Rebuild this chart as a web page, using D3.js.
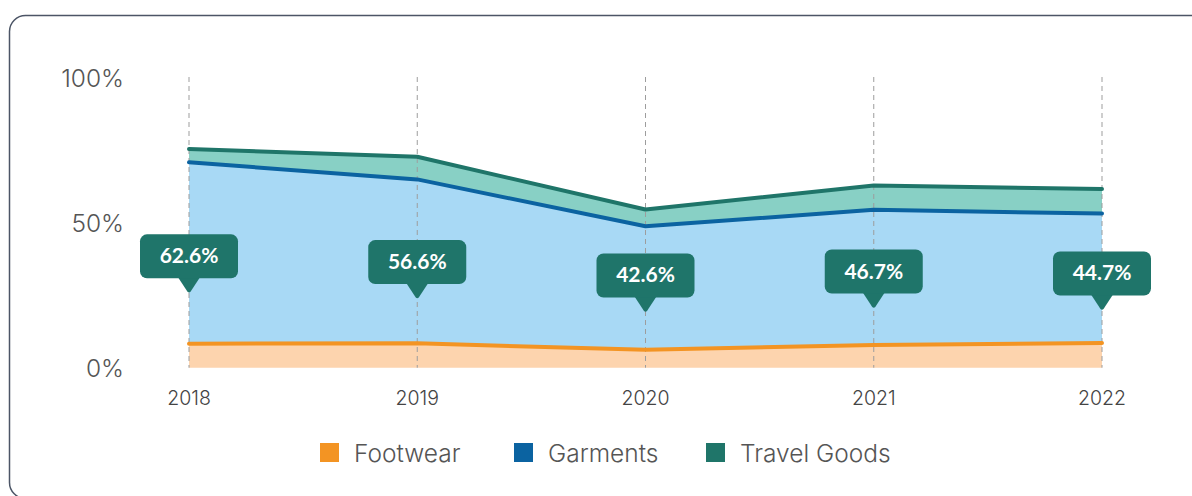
<!DOCTYPE html>
<html>
<head>
<meta charset="utf-8">
<script src="https://cdn.jsdelivr.net/npm/d3@7"></script>
<style>
  html, body { margin: 0; padding: 0; background: #fff; }
  svg { display: block; font-family: Inter, "Noto Sans", sans-serif; }
</style>
</head>
<body>
<svg id="chart" width="1192" height="496"></svg>
<script>
// chart data (share of exports, %)
const years = ['2018', '2019', '2020', '2021', '2022'];
const footwear = [8.3, 8.4, 6.2, 7.8, 8.5];
const garments = [62.6, 56.6, 42.6, 46.7, 44.7];
const travelGoods = [4.6, 7.8, 5.8, 8.4, 8.5];
const yTicks = [0, 50, 100];
const seriesNames = ['Footwear', 'Garments', 'Travel Goods'];

const lineColors = ['#f39423', '#0b63a1', '#1f7569'];
const fillColors = ['#fdd4ae', '#a8d9f5', '#88d0c5'];

const svg = d3.select('#chart');

// card frame
svg.append('rect')
  .attr('x', 9.5).attr('y', 15.5)
  .attr('width', 1220).attr('height', 483)
  .attr('rx', 16)
  .attr('fill', 'none')
  .attr('stroke', '#4c5566')
  .attr('stroke-width', 1.5);

const x = d3.scalePoint().domain(years).range([189, 1102]);
const y = d3.scaleLinear().domain([0, 100]).range([367.7, 78]);

const rows = years.map((yr, i) => ({
  year: yr,
  Footwear: footwear[i],
  Garments: garments[i],
  'Travel Goods': travelGoods[i]
}));

const stacked = d3.stack().keys(seriesNames)(rows);

const area = d3.area()
  .x(d => x(d.data.year))
  .y0(d => y(d[0]))
  .y1(d => y(d[1]));

const line = d3.line()
  .x(d => x(d.data.year))
  .y(d => y(d[1]));

// areas
svg.append('g')
  .selectAll('path')
  .data(stacked)
  .enter()
  .append('path')
  .attr('d', area)
  .attr('fill', (d, i) => fillColors[i]);

// dashed year guides
svg.append('g')
  .selectAll('line')
  .data(years)
  .enter()
  .append('line')
  .attr('x1', d => x(d)).attr('x2', d => x(d))
  .attr('y1', y(100) - 1).attr('y2', y(0))
  .attr('stroke', '#9d9d9d')
  .attr('stroke-width', 1)
  .attr('stroke-dasharray', '5,4');

// top lines of each band
svg.append('g')
  .selectAll('path')
  .data(stacked)
  .enter()
  .append('path')
  .attr('d', line)
  .attr('fill', 'none')
  .attr('stroke', (d, i) => lineColors[i])
  .attr('stroke-width', 4)
  .attr('stroke-linecap', 'round')
  .attr('stroke-linejoin', 'round');

// y axis labels
svg.append('g')
  .selectAll('text')
  .data(yTicks)
  .enter()
  .append('text')
  .attr('x', 124)
  .attr('y', d => y(d) + 9)
  .attr('text-anchor', 'end')
  .attr('font-size', 24.5)
  .attr('font-weight', 300)
  .attr('fill', '#555')
  .text(d => d + '%');

// x axis labels
svg.append('g')
  .selectAll('text')
  .data(years)
  .enter()
  .append('text')
  .attr('x', d => x(d))
  .attr('y', 405)
  .attr('text-anchor', 'middle')
  .attr('font-size', 19.5)
  .attr('font-weight', 350)
  .attr('fill', '#444')
  .text(d => d);

// value callouts for garments
const boxW = 98;
const boxH = 44;
const tipH = 15;
const callouts = svg.append('g')
  .selectAll('g')
  .data(rows)
  .enter()
  .append('g')
  .attr('transform', d => `translate(${x(d.year)},${y(d.Garments * 0.33 + 5)})`);

callouts.append('path')
  .attr('d', `M-11,${-tipH - 1} L-1.5,-1.5 Q0,0 1.5,-1.5 L11,${-tipH - 1} Z`)
  .attr('fill', '#1f756a');

callouts.append('rect')
  .attr('x', -boxW / 2)
  .attr('y', -tipH - boxH)
  .attr('width', boxW)
  .attr('height', boxH)
  .attr('rx', 7)
  .attr('fill', '#1f756a');

callouts.append('text')
  .attr('x', 0)
  .attr('y', -tipH - boxH / 2 + 7)
  .attr('text-anchor', 'middle')
  .attr('font-family', 'Lato, sans-serif')
  .attr('font-size', 21)
  .attr('font-weight', 700)
  .attr('fill', '#fff')
  .text(d => d.Garments.toFixed(1) + '%');

// legend
const legend = svg.append('g').attr('transform', 'translate(320,443)');
const legendX = [0, 194, 386];
const items = legend.selectAll('g')
  .data(seriesNames)
  .enter()
  .append('g')
  .attr('transform', (d, i) => `translate(${legendX[i]},0)`);

items.append('rect')
  .attr('width', 19)
  .attr('height', 19)
  .attr('fill', (d, i) => lineColors[i]);

items.append('text')
  .attr('x', 34)
  .attr('y', 19)
  .attr('font-size', 24.5)
  .attr('font-weight', 300)
  .attr('fill', '#555')
  .text(d => d);
</script>
</body>
</html>
